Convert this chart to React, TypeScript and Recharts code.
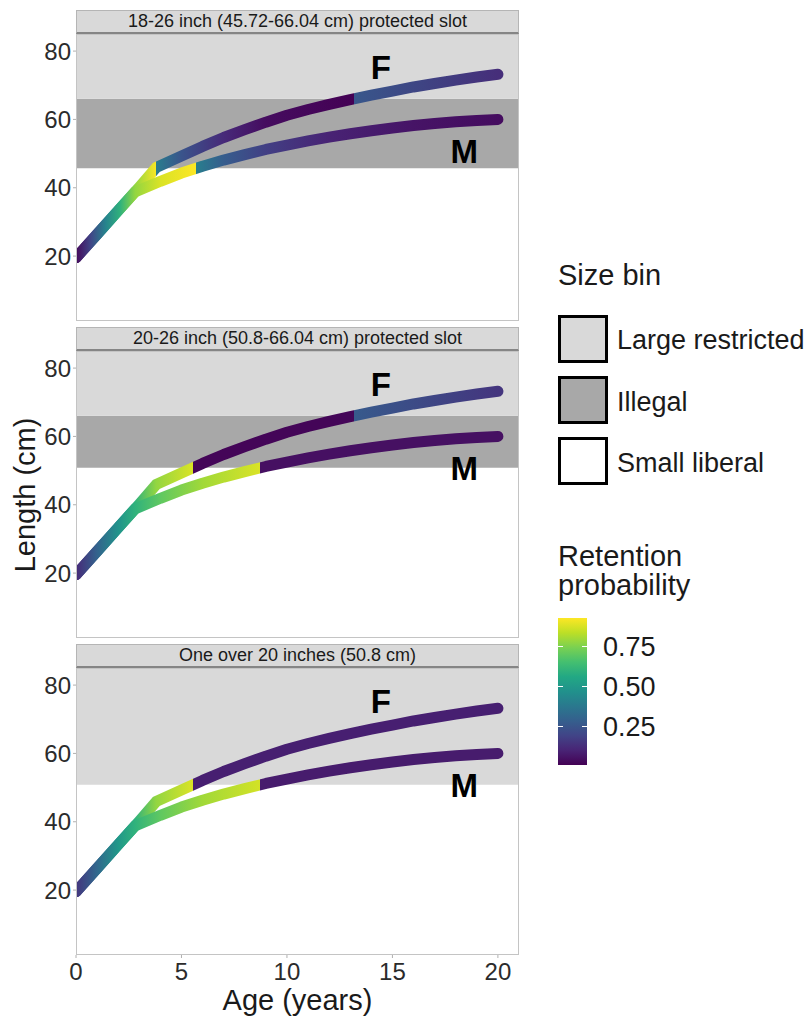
import React from "react";
import { LineChart, Line, XAxis, YAxis, ReferenceArea, ReferenceDot } from "recharts";

// growth curves (age in years, length in cm)
const femaleAge = [0, 1, 2, 3, 3.8, 5, 6, 7, 8, 9, 10, 11, 12, 13, 14, 15, 16, 17, 18, 19, 20];
const femaleLength = [19.5, 26.4, 33.3, 40.2, 45.9, 49.3, 52.1, 54.7, 57.0, 59.2, 61.2, 62.9, 64.4, 65.8, 67.1, 68.3, 69.5, 70.5, 71.5, 72.4, 73.2];
const maleAge = [0, 1, 2, 2.8, 4, 5, 6, 7, 8, 9, 10, 11, 12, 13, 14, 15, 16, 17, 18, 19, 20];
const maleLength = [19.5, 26.4, 33.3, 38.8, 41.9, 44.3, 46.3, 48.1, 49.7, 51.2, 52.5, 53.7, 54.8, 55.8, 56.7, 57.5, 58.2, 58.8, 59.3, 59.7, 60.0];

// retention probability along each curve: [age, probability]
const sharedRetention1 = [[0, 0.03], [0.7, 0.2], [1.4, 0.42], [2.1, 0.6], [2.8, 0.78]];
const femaleRetention1 = [[3.78, 0.92], [3.78, 0.4], [5, 0.25], [7, 0.12], [9, 0.04], [13.18, 0.01], [13.18, 0.26], [20, 0.13]];
const maleRetention1 = [[4, 0.88], [5.71, 0.93], [5.71, 0.4], [7, 0.28], [9, 0.18], [12, 0.1], [16, 0.06], [20, 0.04]];

const sharedRetention2 = [[0, 0.12], [1, 0.3], [2, 0.48], [2.8, 0.6]];
const femaleRetention2 = [[3.8, 0.78], [5.54, 0.88], [5.54, 0.02], [13.18, 0.02], [13.18, 0.27], [20, 0.15]];
const maleRetention2 = [[4, 0.7], [6, 0.8], [8.73, 0.88], [8.73, 0.05], [20, 0.05]];

const sharedRetention3 = [[0, 0.15], [1, 0.32], [2, 0.5], [2.8, 0.6]];
const femaleRetention3 = [[3.8, 0.78], [5.54, 0.88], [5.54, 0.09], [20, 0.09]];
const maleRetention3 = [[4, 0.7], [6, 0.8], [8.73, 0.87], [8.73, 0.08], [20, 0.08]];

const panelTitles = [
  "18-26 inch (45.72-66.04 cm) protected slot",
  "20-26 inch (50.8-66.04 cm) protected slot",
  "One over 20 inches (50.8 cm)",
];
// size bins per panel (cm); null = bin absent
const illegalFrom = [45.72, 50.8, null];
const restrictedFrom = [66.04, 66.04, 50.8];

const ageTicks = [0, 5, 10, 15, 20];
const lengthTicks = [20, 40, 60, 80];
const retentionTicks = [0.25, 0.5, 0.75];
const retentionMin = 0.01;
const retentionMax = 0.93;

const sizeBins = ["Large restricted", "Illegal", "Small liberal"];
const binColors = ["#d9d9d9", "#a8a8a8", "#ffffff"];

const FONT = '"Liberation Sans", Arial, sans-serif';
const VIRIDIS = ["#440154", "#482475", "#414487", "#355f8d", "#2a788e", "#21918c", "#22a884", "#44bf70", "#7ad151", "#bddf26", "#fde725"];

function hexToRgb(h: string) {
  return [1, 3, 5].map((i) => parseInt(h.slice(i, i + 2), 16));
}

function viridis(t: number) {
  const c = Math.max(0, Math.min(1, t)) * 10;
  const i = Math.min(9, Math.floor(c));
  const f = c - i;
  const a = hexToRgb(VIRIDIS[i]);
  const b = hexToRgb(VIRIDIS[i + 1]);
  const rgb = a.map((v, k) => Math.round(v + (b[k] - v) * f));
  return `rgb(${rgb.join(",")})`;
}

const retentionColor = (p: number) => viridis((p - retentionMin) / (retentionMax - retentionMin));

const femaleData = femaleAge.map((age, i) => ({ age, length: femaleLength[i] }));
const maleData = maleAge.map((age, i) => ({ age, length: maleLength[i] }));

const retention = [
  { F: [...sharedRetention1, ...femaleRetention1], M: [...sharedRetention1, ...maleRetention1] },
  { F: [...sharedRetention2, ...femaleRetention2], M: [...sharedRetention2, ...maleRetention2] },
  { F: [...sharedRetention3, ...femaleRetention3], M: [...sharedRetention3, ...maleRetention3] },
];

const PLOT_LEFT = 76;
const PLOT_W = 443;
const PLOT_H = 287;
const ROW = 317;
const STRIP_TOP = 10;
const STRIP_H = 24;

function Gradient({ id, stops }: { id: string; stops: number[][] }) {
  return (
    <linearGradient id={id} x1="0" y1="0" x2="1" y2="0">
      {stops.map(([age, p], i) => (
        <stop key={i} offset={`${(age / 20) * 100}%`} stopColor={retentionColor(p)} />
      ))}
    </linearGradient>
  );
}

function Panel({ index }: { index: number }) {
  const showX = index === 2;
  const top = STRIP_TOP + STRIP_H + ROW * index;
  const ret = retention[index];
  const ill = illegalFrom[index];
  const res = restrictedFrom[index];
  const labelStyle = { fontSize: 33, fontWeight: "bold", fill: "#000", fontFamily: FONT };
  return (
    <div style={{ position: "absolute", left: 0, top }}>
      <LineChart
        width={PLOT_LEFT + PLOT_W + 11}
        height={PLOT_H + (showX ? 45 : 0)}
        margin={{ top: 0, right: 11, bottom: 0, left: 8 }}
      >
        <defs>
          <Gradient id={`ret-${index}-F`} stops={ret.F} />
          <Gradient id={`ret-${index}-M`} stops={ret.M} />
        </defs>
        <XAxis
          type="number"
          dataKey="age"
          domain={[0, 21]}
          allowDataOverflow
          ticks={ageTicks}
          hide={!showX}
          height={45}
          axisLine={false}
          tickLine={{ stroke: "#b0b0b0" }}
          tickSize={3}
          tickMargin={5}
          tick={{ fontSize: 24, fill: "#2b2b2b", fontFamily: FONT }}
        />
        <YAxis
          type="number"
          domain={[1, 85]}
          allowDataOverflow
          ticks={lengthTicks}
          width={68}
          axisLine={false}
          tickLine={{ stroke: "#b0b0b0" }}
          tickSize={3}
          tickMargin={2}
          tick={{ fontSize: 24, fill: "#2b2b2b", fontFamily: FONT }}
        />
        {ill !== null && (
          <ReferenceArea y1={ill} y2={res} fill={binColors[1]} fillOpacity={1} stroke="none" />
        )}
        <ReferenceArea y1={res} y2={85} fill={binColors[0]} fillOpacity={1} stroke="none" />
        <Line
          data={femaleData}
          dataKey="length"
          type="linear"
          stroke={`url(#ret-${index}-F)`}
          strokeWidth={11}
          strokeLinecap="round"
          strokeLinejoin="round"
          dot={false}
          activeDot={false}
          isAnimationActive={false}
        />
        <Line
          data={maleData}
          dataKey="length"
          type="linear"
          stroke={`url(#ret-${index}-M)`}
          strokeWidth={11}
          strokeLinecap="round"
          strokeLinejoin="round"
          dot={false}
          activeDot={false}
          isAnimationActive={false}
        />
        <ReferenceDot x={14.45} y={75.3} r={0} fill="none" stroke="none" label={{ value: "F", position: "center", ...labelStyle }} />
        <ReferenceDot x={18.4} y={50.8} r={0} fill="none" stroke="none" label={{ value: "M", position: "center", ...labelStyle }} />
      </LineChart>
    </div>
  );
}

export default function App() {
  const barTop = 618;
  const barH = 147;
  const barBottom = barTop + barH;
  const tickY = (v: number) => barBottom - ((v - retentionMin) / (retentionMax - retentionMin)) * barH;
  const gradientCss = `linear-gradient(to top, ${VIRIDIS.join(", ")})`;

  return (
    <div
      style={{
        position: "absolute",
        left: 0,
        top: 0,
        width: 812,
        height: 1017,
        background: "#fff",
        fontFamily: FONT,
        color: "#1a1a1a",
        overflow: "hidden",
      }}
    >
      {panelTitles.map((t, i) => (
        <div
          key={t}
          style={{
            position: "absolute",
            left: PLOT_LEFT,
            top: STRIP_TOP + ROW * i,
            width: PLOT_W,
            height: STRIP_H,
            boxSizing: "border-box",
            background: "#d9d9d9",
            border: "1px solid #b5b5b5",
            borderBottom: "2px solid #858585",
            display: "flex",
            alignItems: "center",
            justifyContent: "center",
            fontSize: 18,
            color: "#1a1a1a",
            whiteSpace: "nowrap",
          }}
        >
          {t}
        </div>
      ))}

      {[0, 1, 2].map((i) => (
        <Panel key={i} index={i} />
      ))}

      {[0, 1, 2].map((i) => (
        <div
          key={`b${i}`}
          style={{
            position: "absolute",
            left: PLOT_LEFT,
            top: STRIP_TOP + STRIP_H + ROW * i,
            width: PLOT_W,
            height: PLOT_H,
            boxSizing: "border-box",
            border: "1px solid #c4c4c4",
            pointerEvents: "none",
          }}
        />
      ))}

      <div
        style={{
          position: "absolute",
          left: 25,
          top: 495,
          transform: "translate(-50%, -50%) rotate(-90deg)",
          fontSize: 29,
          whiteSpace: "nowrap",
          lineHeight: 1,
        }}
      >
        Length (cm)
      </div>
      <div
        style={{
          position: "absolute",
          left: PLOT_LEFT,
          top: 986,
          width: PLOT_W,
          textAlign: "center",
          fontSize: 29,
          lineHeight: 1,
        }}
      >
        Age (years)
      </div>

      {/* size bin legend */}
      <div style={{ position: "absolute", left: 558, top: 261, fontSize: 29, lineHeight: 1 }}>Size bin</div>
      {sizeBins.map((b, i) => (
        <React.Fragment key={b}>
          <div
            style={{
              position: "absolute",
              left: 558,
              top: 315 + 61 * i,
              width: 50,
              height: 48,
              boxSizing: "border-box",
              border: "3px solid #000",
              background: binColors[i],
            }}
          />
          <div style={{ position: "absolute", left: 617, top: 327 + 61.5 * i, fontSize: 27, lineHeight: 1, whiteSpace: "nowrap" }}>
            {b}
          </div>
        </React.Fragment>
      ))}

      {/* retention colorbar */}
      <div style={{ position: "absolute", left: 558, top: 542, fontSize: 29, lineHeight: "29px" }}>
        Retention
        <br />
        probability
      </div>
      <div
        style={{
          position: "absolute",
          left: 558,
          top: barTop,
          width: 29,
          height: barH,
          background: gradientCss,
        }}
      />
      {retentionTicks.map((v) => (
        <React.Fragment key={v}>
          <div style={{ position: "absolute", left: 558, top: tickY(v) - 0.5, width: 5, height: 1, background: "#fff" }} />
          <div style={{ position: "absolute", left: 582, top: tickY(v) - 0.5, width: 5, height: 1, background: "#fff" }} />
          <div style={{ position: "absolute", left: 603, top: tickY(v) - 13, fontSize: 27, lineHeight: "26px" }}>
            {v.toFixed(2)}
          </div>
        </React.Fragment>
      ))}
    </div>
  );
}
